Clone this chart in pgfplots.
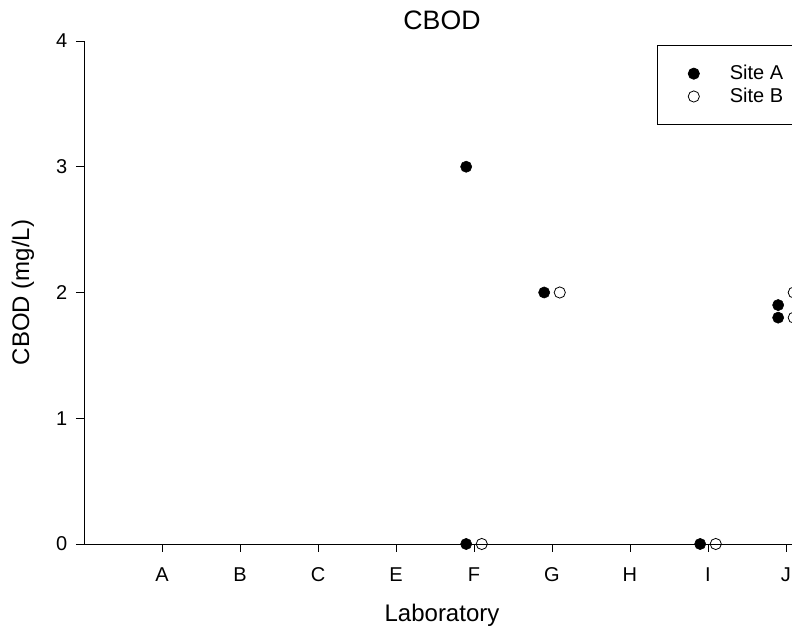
\documentclass[border=0pt]{standalone}
\usepackage{fontspec}
\setmainfont{Liberation Sans}
\usepackage{pgfplots}
\pgfplotsset{compat=1.18}

\begin{document}
\begin{tikzpicture}
\begin{axis}[
    scale only axis,
    width=537pt,
    height=377.25pt,
    xmin=0, xmax=9.18,
    ymin=0, ymax=4,
    axis lines=left,
    axis line style={-, line width=0.6pt},
    tick align=outside,
    major tick length=6pt,
    tick style={black, line width=0.6pt},
    xtick={1,2,3,4,5,6,7,8,9},
    xticklabels={A,B,C,E,F,G,H,I,J},
    ytick={0,1,2,3,4},
    tick label style={font=\fontsize{15}{18}\selectfont},
    xticklabel style={yshift=-8pt},
    yticklabel style={xshift=-3pt},
    /pgf/number format/assume math mode=true,
    title={CBOD},
    title style={font=\fontsize{20}{24}\selectfont, anchor=base,
        at={(axis description cs:0.5,1)}, yshift=2.25pt},
    xlabel={Laboratory},
    xlabel style={font=\fontsize{18}{22}\selectfont, anchor=base,
        at={(axis description cs:0.5,0)}, yshift=-58.5pt},
    ylabel={CBOD (mg/L)},
    ylabel style={font=\fontsize{18}{22}\selectfont, anchor=center,
        at={([xshift=-45.75pt]axis description cs:0,0.5)}},
    legend style={
        at={(axis description cs:0.8003,0.992)}, anchor=north west,
        draw=black, line width=0.6pt,
        font=\fontsize{15}{18}\selectfont,
        inner xsep=12pt, inner ysep=13pt, row sep=0.75pt,
        legend cell align=left,
    },
    legend image code/.code={%
        \path (-15pt,0pt) (24.7pt,0pt);
        \draw[#1] plot coordinates {(0pt,0pt)};},
]

% Site A, offset left of each laboratory
\addplot[only marks, mark=*, mark size=4.2pt, draw=black, fill=black] coordinates {
    (4.9,3) (4.9,0) (5.9,2) (7.9,0) (8.9,1.9) (8.9,1.8)
};
\addlegendentry{Site A}

% Site B, offset right
\addplot[only marks, mark=o, mark size=4.2pt, draw=black, fill=white, line width=0.6pt] coordinates {
    (5.1,0) (6.1,2) (8.1,0) (9.1,2.0) (9.1,1.8)
};
\addlegendentry{Site B}

\end{axis}
\pgfresetboundingbox
\useasboundingbox (-63pt,-64.5pt) rectangle (531pt,408pt);
\end{tikzpicture}
\end{document}
